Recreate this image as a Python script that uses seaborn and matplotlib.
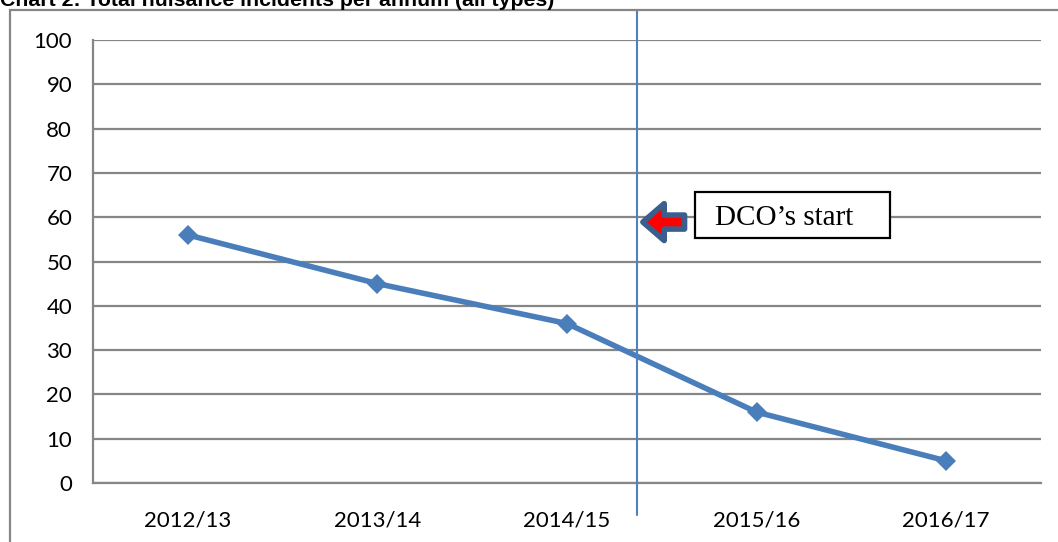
import pandas as pd
import seaborn as sns
import matplotlib.pyplot as plt
import matplotlib.patches as mpatches

# --- Data ---
seasons = ['2012/13', '2013/14', '2014/15', '2015/16', '2016/17']
incidents = [56, 45, 36, 16, 5]
y_ticks = [0, 10, 20, 30, 40, 50, 60, 70, 80, 90, 100]

title = 'Chart 2: Total nuisance incidents per annum (all types)'
marker_label = 'DCO\u2019s start'

df = pd.DataFrame({'season': seasons, 'incidents': incidents})

sns.set_style('white')
plt.rcParams['font.family'] = ['Lato', 'DejaVu Sans']
plt.rcParams['text.color'] = 'black'
plt.rcParams['xtick.labelcolor'] = 'black'
plt.rcParams['ytick.labelcolor'] = 'black'

GRID = '#868686'
LINE = '#4A7EBB'

fig = plt.figure(figsize=(10.58, 5.42), dpi=100)
ax = fig.add_axes([93 / 1058, 1 - 483 / 542, (1041 - 93) / 1058, (483 - 40) / 542])

sns.lineplot(data=df, x='season', y='incidents', color=LINE, linewidth=4,
             marker='D', markersize=10, markeredgewidth=0, ax=ax, zorder=5)

# axes / grid
ax.set_xlim(-0.5, len(seasons) - 0.5)
ax.set_ylim(0, 100)
ax.set_yticks(y_ticks)
ax.yaxis.grid(True, color=GRID, linewidth=1.6)
ax.set_axisbelow(True)
ax.set_xlabel('')
ax.set_ylabel('')
for side in ['top', 'right']:
    ax.spines[side].set_visible(False)
for side in ['left', 'bottom']:
    ax.spines[side].set_color(GRID)
    ax.spines[side].set_linewidth(1.6)

ax.tick_params(axis='y', length=7, width=1.4, color=GRID, pad=8, labelsize=16,
               labelcolor='black')
ax.tick_params(axis='x', which='major', length=0, pad=20, labelsize=16,
               labelcolor='black')
ax.set_xticks([i - 0.5 for i in range(len(seasons) + 1)], minor=True)
ax.tick_params(axis='x', which='minor', length=8, width=1.4, color=GRID, direction='out')

# vertical DCO start line (runs past the plot area top and bottom)
dco_x = 2.37
ax.axvline(dco_x, ymin=-0.072, ymax=1.068, color='#4F81BD', linewidth=1.5,
           clip_on=False, zorder=6)

# fat arrow pointing at the line
ax.annotate('', xy=(dco_x + 0.03, 58.9), xytext=(2.62, 58.9),
            arrowprops=dict(arrowstyle='simple,head_length=0.55,head_width=0.95,tail_width=0.36',
                            mutation_scale=28, fc='#FF0000', ec='#3B5E8C', lw=4,
                            joinstyle='round', shrinkA=0, shrinkB=0),
            zorder=7)

# label box
ax.add_patch(mpatches.Rectangle((2.675, 55.3), 1.03, 10.4, facecolor='white',
                                edgecolor='black', linewidth=1.6, zorder=7))
ax.text(2.78, 59.8, marker_label, family=['Liberation Serif', 'DejaVu Serif'],
        fontsize=21, va='center', ha='left', zorder=8)

# outer chart border
fig.patches.append(mpatches.Rectangle((10 / 1058, -0.1), 1.1, 1 - 10 / 542 + 0.1,
                                      transform=fig.transFigure, fill=False,
                                      edgecolor=GRID, linewidth=1.6))

# title, clipped at the top edge as in the reference
fig.text(0.0, 1 - 6 / 542, title, family=['Liberation Sans', 'DejaVu Sans'],
         fontweight='bold', fontsize=15.3, va='baseline', ha='left')

plt.savefig('out.png', dpi=100)
